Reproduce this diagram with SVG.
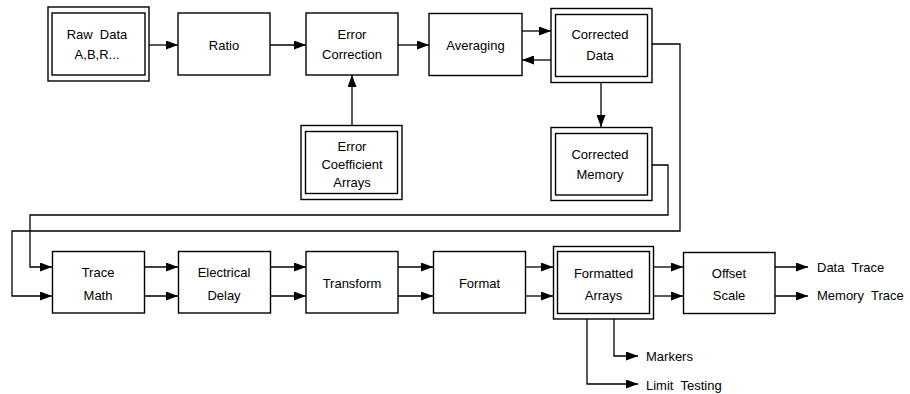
<svg xmlns="http://www.w3.org/2000/svg" width="910" height="394" viewBox="0 0 910 394">
<style>
rect{fill:#fff;stroke:#000;stroke-width:1.4}
.c path{fill:none;stroke:#000;stroke-width:1.3}
text{font-family:"Liberation Sans",Arial,sans-serif;font-size:13px;fill:#000;white-space:pre}
.m{text-anchor:middle}
</style>
<defs>
<marker id="ah" viewBox="0 0 12 9" refX="12" refY="4.5" markerWidth="12" markerHeight="9" markerUnits="userSpaceOnUse" orient="auto"><path d="M0,0 L12,4.5 L0,9 z" fill="#000"/></marker>
</defs>
<rect x="0" y="0" width="910" height="394" style="stroke:none"/>
<g class="c">
<path d="M149,45 H178" marker-end="url(#ah)"/>
<path d="M270,45 H306" marker-end="url(#ah)"/>
<path d="M398,45 H429" marker-end="url(#ah)"/>
<path d="M522,31 H551" marker-end="url(#ah)"/>
<path d="M551,60 H522" marker-end="url(#ah)"/>
<path d="M601,82 V127" marker-end="url(#ah)"/>
<path d="M352,125 V75" marker-end="url(#ah)"/>
<path d="M652,44 H680 V231 H12 V296 H52" marker-end="url(#ah)"/>
<path d="M652,165 H668 V215 H30 V267 H52" marker-end="url(#ah)"/>
<path d="M144,267 H178" marker-end="url(#ah)"/>
<path d="M144,296 H178" marker-end="url(#ah)"/>
<path d="M270,267 H306" marker-end="url(#ah)"/>
<path d="M270,296 H306" marker-end="url(#ah)"/>
<path d="M398,267 H433" marker-end="url(#ah)"/>
<path d="M398,296 H433" marker-end="url(#ah)"/>
<path d="M526,267 H553" marker-end="url(#ah)"/>
<path d="M526,296 H553" marker-end="url(#ah)"/>
<path d="M654,267 H683" marker-end="url(#ah)"/>
<path d="M654,296 H683" marker-end="url(#ah)"/>
<path d="M775,267 H808" marker-end="url(#ah)"/>
<path d="M775,296 H808" marker-end="url(#ah)"/>
<path d="M614,319 V356 H638" marker-end="url(#ah)"/>
<path d="M587,319 V384 H638" marker-end="url(#ah)"/>
</g>
<g id="raw-data">
<rect x="48" y="7" width="101" height="74"/>
<rect x="52" y="13" width="93" height="62"/>
<text class="m" x="97" y="39">Raw  Data</text>
<text class="m" x="97" y="59">A,B,R...</text>
</g>
<g id="ratio">
<rect x="178" y="13" width="92" height="62"/>
<text class="m" x="224" y="50">Ratio</text>
</g>
<g id="error-correction">
<rect x="306" y="13" width="92" height="62"/>
<text class="m" x="352" y="39">Error</text>
<text class="m" x="352" y="59">Correction</text>
</g>
<g id="averaging">
<rect x="429" y="13.5" width="93" height="62"/>
<text class="m" x="475.5" y="50">Averaging</text>
</g>
<g id="corrected-data">
<rect x="551" y="8.5" width="101" height="74"/>
<rect x="555.5" y="14.5" width="92" height="62"/>
<text class="m" x="600" y="39">Corrected</text>
<text class="m" x="600" y="60">Data</text>
</g>
<g id="error-coefficient-arrays">
<rect x="301" y="125.5" width="101" height="74"/>
<rect x="305.5" y="131.5" width="92" height="62"/>
<text class="m" x="352" y="151">Error</text>
<text class="m" x="352" y="169">Coefficient</text>
<text class="m" x="352" y="187">Arrays</text>
</g>
<g id="corrected-memory">
<rect x="551" y="127.5" width="101" height="73"/>
<rect x="555.5" y="133.5" width="92" height="61.5"/>
<text class="m" x="600" y="159">Corrected</text>
<text class="m" x="600" y="179">Memory</text>
</g>
<g id="trace-math">
<rect x="52.5" y="251.5" width="92" height="61.5"/>
<text class="m" x="98" y="277">Trace</text>
<text class="m" x="98" y="300">Math</text>
</g>
<g id="electrical-delay">
<rect x="178.5" y="251.5" width="92" height="61.5"/>
<text class="m" x="224" y="277">Electrical</text>
<text class="m" x="224" y="300">Delay</text>
</g>
<g id="transform">
<rect x="306" y="251.5" width="92" height="61.5"/>
<text class="m" x="352" y="288">Transform</text>
</g>
<g id="format">
<rect x="433.5" y="251.5" width="92" height="61.5"/>
<text class="m" x="479.5" y="288">Format</text>
</g>
<g id="formatted-arrays">
<rect x="553.5" y="246.5" width="100" height="72.5"/>
<rect x="557.5" y="251.5" width="92" height="62"/>
<text class="m" x="603.5" y="278">Formatted</text>
<text class="m" x="603.5" y="300">Arrays</text>
</g>
<g id="offset-scale">
<rect x="683.5" y="252.5" width="91.5" height="61"/>
<text class="m" x="729" y="278">Offset</text>
<text class="m" x="729" y="300">Scale</text>
</g>
<g id="outputs">
<text x="817" y="272">Data  Trace</text>
<text x="817" y="300">Memory  Trace</text>
<text x="646" y="361">Markers</text>
<text x="646" y="390">Limit  Testing</text>
</g>
</svg>
